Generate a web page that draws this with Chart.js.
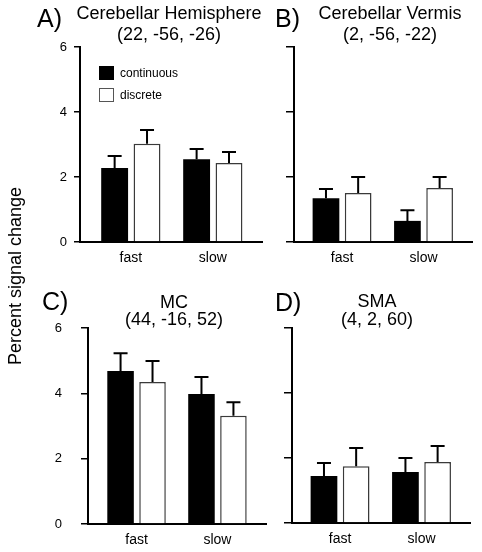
<!DOCTYPE html>
<html><head><meta charset="utf-8">
<script src="https://cdn.jsdelivr.net/npm/chart.js@4.4.1/dist/chart.umd.min.js"></script>
<style>
html,body{margin:0;padding:0;background:#fff;}
#wrap{position:relative;width:482px;height:552px;overflow:hidden;font-family:"Liberation Sans",Arial,sans-serif;color:#000;background:#fff;}
canvas{position:absolute;}
.t{position:absolute;white-space:nowrap;line-height:1;}
.box{position:absolute;box-sizing:border-box;}
</style></head><body><div id="wrap"></div>
<script>
// ---------- data ----------
const categories = ['fast', 'slow'];
const seriesNames = ['continuous', 'discrete'];
const yTickValues = [0, 2, 4, 6];
const yTitle = 'Percent signal change';
const panelLetters = ['A)', 'B)', 'C)', 'D)'];
const regionNames = ['Cerebellar Hemisphere', 'Cerebellar Vermis', 'MC', 'SMA'];
const regionCoords = ['(22, -56, -26)', '(2, -56, -22)', '(44, -16, 52)', '(4, 2, 60)'];

const hemiCont = [2.28, 2.55];
const hemiContErr = [0.37, 0.31];
const hemiDisc = [3.02, 2.43];
const hemiDiscErr = [0.43, 0.34];

const vermCont = [1.35, 0.65];
const vermContErr = [0.28, 0.33];
const vermDisc = [1.51, 1.66];
const vermDiscErr = [0.49, 0.34];

const mcCont = [4.68, 3.98];
const mcContErr = [0.55, 0.52];
const mcDisc = [4.35, 3.31];
const mcDiscErr = [0.64, 0.42];

const smaCont = [1.45, 1.57];
const smaContErr = [0.40, 0.43];
const smaDisc = [1.75, 1.88];
const smaDiscErr = [0.56, 0.49];

// ---------- layout ----------
const FONT = '"Liberation Sans", Arial, sans-serif';
const wrap = document.getElementById('wrap');

const panels = [
  { cont: hemiCont, contErr: hemiContErr, disc: hemiDisc, discErr: hemiDiscErr,
    cv: {left: 0, top: 0, w: 270, h: 270}, area: {left: 80, right: 262, top: 47, bottom: 242},
    tickLen: 6, labelPad: 7, showY: true, xmin: -0.62, xmax: 1.6,
    letter: {x: 37, base: 27}, title: {cx: 169, b1: 19, b2: 40} },
  { cont: vermCont, contErr: vermContErr, disc: vermDisc, discErr: vermDiscErr,
    cv: {left: 270, top: 0, w: 212, h: 270}, area: {left: 294, right: 472, top: 47, bottom: 242},
    tickLen: 8, labelPad: 7, showY: false, xmin: -0.59, xmax: 1.595,
    letter: {x: 275, base: 27}, title: {cx: 390, b1: 19, b2: 40} },
  { cont: mcCont, contErr: mcContErr, disc: mcDisc, discErr: mcDiscErr,
    cv: {left: 0, top: 276, w: 275, h: 276}, area: {left: 88, right: 266, top: 328, bottom: 524},
    tickLen: 7, labelPad: 19, showY: true, xmin: -0.6, xmax: 1.6,
    letter: {x: 42, base: 310}, title: {cx: 174, b1: 308, b2: 325} },
  { cont: smaCont, contErr: smaContErr, disc: smaDisc, discErr: smaDiscErr,
    cv: {left: 275, top: 276, w: 207, h: 276}, area: {left: 292, right: 470, top: 328, bottom: 523},
    tickLen: 8, labelPad: 7, showY: false, xmin: -0.59, xmax: 1.595,
    letter: {x: 275, base: 311}, title: {cx: 377, b1: 307, b2: 325} }
];

function addText(str, size, x, baseline, align) {
  const d = document.createElement('div');
  d.className = 't';
  d.textContent = str;
  d.style.fontSize = size + 'px';
  d.style.top = (baseline - 0.8465 * size) + 'px';
  if (align === 'center') {
    d.style.left = (x - 300) + 'px'; d.style.width = '600px'; d.style.textAlign = 'center';
  } else {
    d.style.left = x + 'px';
  }
  wrap.appendChild(d);
  return d;
}

const errorBars = {
  id: 'errorBars',
  afterDatasetsDraw(chart) {
    const ctx = chart.ctx, ys = chart.scales.y;
    chart.data.datasets.forEach((ds, di) => {
      const meta = chart.getDatasetMeta(di);
      meta.data.forEach((el, i) => {
        const v = ds.data[i].y, e = ds.errors[i];
        const y0 = ys.getPixelForValue(v), y1 = ys.getPixelForValue(v + e);
        ctx.save();
        ctx.strokeStyle = '#000';
        ctx.lineWidth = 2;
        ctx.beginPath();
        ctx.moveTo(el.x, y0); ctx.lineTo(el.x, y1);
        ctx.moveTo(el.x - 7, y1); ctx.lineTo(el.x + 7, y1);
        ctx.stroke();
        ctx.restore();
      });
    });
  }
};

panels.forEach((p, pi) => {
  const c = document.createElement('canvas');
  c.width = p.cv.w; c.height = p.cv.h;
  c.style.left = p.cv.left + 'px'; c.style.top = p.cv.top + 'px';
  c.style.width = p.cv.w + 'px'; c.style.height = p.cv.h + 'px';
  wrap.appendChild(c);
  const yw = p.area.left - p.cv.left;
  const padR = p.cv.left + p.cv.w - p.area.right;
  const padT = p.area.top - p.cv.top;
  const xh = p.cv.top + p.cv.h - p.area.bottom;

  new Chart(c, {
    type: 'bar',
    data: {
      datasets: [
        { label: seriesNames[0], data: categories.map((cat, i) => ({x: i, y: p.cont[i]})), errors: p.contErr,
          backgroundColor: '#000', borderColor: '#000', borderWidth: 0,
          barPercentage: 0.83, categoryPercentage: 0.79 },
        { label: seriesNames[1], data: categories.map((cat, i) => ({x: i, y: p.disc[i]})), errors: p.discErr,
          backgroundColor: '#fff', borderColor: '#3a3a3a', borderWidth: 1.5,
          barPercentage: 0.83, categoryPercentage: 0.79 }
      ]
    },
    options: {
      responsive: false, animation: false, devicePixelRatio: 1,
      layout: { padding: { left: 0, right: padR, top: padT, bottom: 0 } },
      plugins: { legend: { display: false }, title: { display: false }, tooltip: { enabled: false } },
      scales: {
        x: {
          type: 'linear', min: p.xmin, max: p.xmax, offset: false, z: 1,
          afterBuildTicks: s => { s.ticks = categories.map((cat, i) => ({value: i})); },
          afterFit: s => { s.height = xh; },
          ticks: { callback: v => categories[v], font: {size: 14, family: FONT}, color: '#000',
                   padding: 8, autoSkip: false, maxRotation: 0 },
          grid: { display: false, drawTicks: false, offset: false },
          border: { display: true, color: '#000', width: 2 }
        },
        y: {
          type: 'linear', min: 0, max: 6,
          afterBuildTicks: s => { s.ticks = yTickValues.map(v => ({value: v})); },
          afterFit: s => { s.width = yw; },
          ticks: { display: p.showY, font: {size: 13, family: FONT}, color: '#000', padding: p.labelPad },
          grid: { display: true, drawOnChartArea: false, drawTicks: true, tickLength: p.tickLen,
                  color: '#000', lineWidth: 1.5, tickWidth: 1.5 },
          border: { display: true, color: '#000', width: 2 }
        }
      }
    },
    plugins: [errorBars]
  });

  addText(panelLetters[pi], 25, p.letter.x, p.letter.base, 'left');
  addText(regionNames[pi], 18, p.title.cx, p.title.b1, 'center');
  addText(regionCoords[pi], 18, p.title.cx, p.title.b2, 'center');
});

// legend (panel A)
const legendFills = ['#000', '#fff'];
const legendBoxTops = [66, 88];
const legendBases = [77, 99];
seriesNames.forEach((name, i) => {
  const b = document.createElement('div');
  b.className = 'box';
  b.style.left = '99px'; b.style.top = legendBoxTops[i] + 'px';
  b.style.width = '15px'; b.style.height = '14px';
  b.style.background = legendFills[i];
  b.style.border = '1px solid ' + (i === 0 ? '#000' : '#555');
  wrap.appendChild(b);
  addText(name, 12, 120, legendBases[i], 'left');
});

// y-axis title
const yt = document.createElement('div');
yt.className = 't';
yt.textContent = yTitle;
yt.style.fontSize = '18px';
yt.style.width = '240px';
yt.style.textAlign = 'center';
yt.style.left = (15 - 120) + 'px';
yt.style.top = (276 - 9) + 'px';
yt.style.transform = 'rotate(-90deg)';
yt.style.transformOrigin = '50% 50%';
wrap.appendChild(yt);
</script>
</body></html>
